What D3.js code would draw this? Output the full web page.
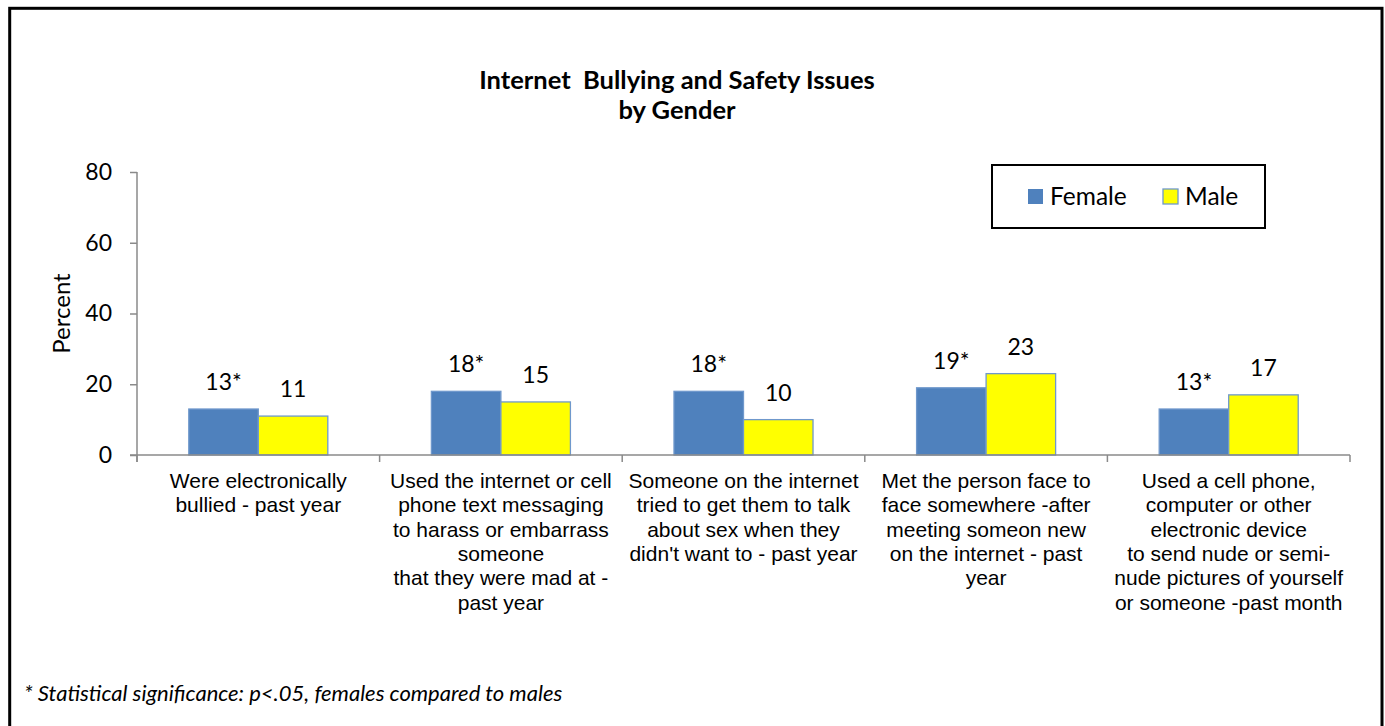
<!DOCTYPE html>
<html>
<head>
<meta charset="utf-8">
<script src="https://cdn.jsdelivr.net/npm/d3@7"></script>
<style>
  body { margin: 0; background: #fff; }
  svg { display: block; }
</style>
</head>
<body>
<svg id="chart" width="1385" height="726"></svg>
<script>
// Survey items (line breaks mark how each axis label wraps)
const categories = [
  "Were electronically\nbullied - past year",
  "Used the internet or cell\nphone text messaging\nto harass or embarrass\nsomeone\nthat they were mad at -\npast year",
  "Someone on the internet\ntried to get them to talk\nabout sex when they\ndidn't want to - past year",
  "Met the person face to\nface somewhere -after\nmeeting someon new\non the internet - past\nyear",
  "Used a cell phone,\ncomputer or other\nelectronic device\nto send nude or semi-\nnude pictures of yourself\nor someone -past month"
];
const seriesNames = ["Female", "Male"];
const femaleValues = [13, 18, 18, 19, 13];
const maleValues = [11, 15, 10, 23, 17];
// Female rates that differ significantly from males (marked with *)
const femaleSignificant = [true, true, true, true, true];
const maleSignificant = [false, false, false, false, false];
const yTicks = [0, 20, 40, 60, 80];

const titleLines = ["Internet  Bullying and Safety Issues", "by Gender"];
const yAxisTitle = "Percent";
const footnote = "* Statistical significance: p<.05, females compared to males";

const colors = { Female: "#4F81BD", Male: "#FFFF00" };
const barStroke = "#6f98cc";
const axisColor = "#8a8a8a";
const calibriLike = "Lato, 'Open Sans', sans-serif";
const arialLike = "'Liberation Sans', Arial, sans-serif";

const svg = d3.select("#chart");

// Outer frame
svg.append("rect")
  .attr("x", 9.7).attr("y", 8.3)
  .attr("width", 1372.3).attr("height", 800)
  .attr("fill", "none").attr("stroke", "#000").attr("stroke-width", 3);

// Title
const title = svg.append("text")
  .attr("text-anchor", "middle")
  .attr("font-family", calibriLike)
  .attr("font-weight", "bold")
  .attr("font-size", 25.5)
  .attr("fill", "#000");
titleLines.forEach((line, i) => {
  title.append("tspan")
    .attr("x", 677).attr("y", 89 + i * 30)
    .attr("xml:space", "preserve")
    .style("white-space", "pre")
    .text(line);
});

const plot = { left: 137, right: 1350, top: 172, bottom: 455 };

const y = d3.scaleLinear().domain([0, 80]).range([plot.bottom, plot.top]);
const x0 = d3.scaleBand().domain(categories).range([plot.left, plot.right]).padding(0);
const x1 = d3.scaleBand().domain(seriesNames).range([0, x0.bandwidth()])
  .paddingInner(0).paddingOuter(0.745);

const rows = categories.map((c, i) => ({
  category: c,
  bars: [
    { series: "Female", value: femaleValues[i], sig: femaleSignificant[i] },
    { series: "Male", value: maleValues[i], sig: maleSignificant[i] }
  ]
}));

// Y axis
const yAxis = svg.append("g")
  .attr("transform", `translate(${plot.left},0)`)
  .call(d3.axisLeft(y).tickValues(yTicks).tickSize(7).tickPadding(18).tickSizeOuter(0));
yAxis.select(".domain").attr("stroke", axisColor).attr("stroke-width", 1.5)
  .attr("d", `M0,${plot.top}V${plot.bottom + 7}`);
yAxis.selectAll(".tick line").attr("stroke", axisColor).attr("stroke-width", 1.5);
yAxis.selectAll(".tick text")
  .attr("font-family", calibriLike).attr("font-size", 23).attr("fill", "#000");

// Y axis title
svg.append("text")
  .attr("transform", `translate(70,${(plot.top + plot.bottom) / 2}) rotate(-90)`)
  .attr("text-anchor", "middle")
  .attr("font-family", calibriLike).attr("font-size", 24).attr("fill", "#000")
  .text(yAxisTitle);

// Bars
const groups = svg.append("g").selectAll("g")
  .data(rows).join("g")
  .attr("transform", d => `translate(${x0(d.category)},0)`);

groups.selectAll("rect")
  .data(d => d.bars).join("rect")
  .attr("x", d => x1(d.series))
  .attr("y", d => y(d.value))
  .attr("width", x1.bandwidth())
  .attr("height", d => y(0) - y(d.value))
  .attr("fill", d => colors[d.series])
  .attr("stroke", barStroke).attr("stroke-width", 1.3);

// Value labels
groups.selectAll("text.value")
  .data(d => d.bars).join("text")
  .attr("class", "value")
  .attr("x", d => x1(d.series) + x1.bandwidth() / 2)
  .attr("y", d => y(d.value) - 19)
  .attr("text-anchor", "middle")
  .attr("font-family", calibriLike).attr("font-size", 23).attr("fill", "#000")
  .text(d => d.value + (d.sig ? "*" : ""));

// X axis line and category dividers
const xAxis = svg.append("g");
xAxis.append("line")
  .attr("x1", plot.left - 7).attr("x2", plot.right)
  .attr("y1", plot.bottom).attr("y2", plot.bottom)
  .attr("stroke", axisColor).attr("stroke-width", 1.5);
const boundaries = categories.map(c => x0(c)).concat([plot.right]);
xAxis.selectAll("line.div")
  .data(boundaries).join("line")
  .attr("class", "div")
  .attr("x1", d => d).attr("x2", d => d)
  .attr("y1", plot.bottom).attr("y2", plot.bottom + 7)
  .attr("stroke", axisColor).attr("stroke-width", 1.5);

// Category labels
const catLabels = xAxis.selectAll("text.cat")
  .data(categories).join("text")
  .attr("class", "cat")
  .attr("text-anchor", "middle")
  .attr("font-family", arialLike).attr("font-size", 21).attr("fill", "#000");
catLabels.each(function (d) {
  const t = d3.select(this);
  d.split("\n").forEach((line, i) => {
    t.append("tspan")
      .attr("x", x0(d) + x0.bandwidth() / 2)
      .attr("y", plot.bottom + 33 + i * 24.3)
      .text(line);
  });
});

// Legend
const legend = svg.append("g");
legend.append("rect")
  .attr("x", 992).attr("y", 165).attr("width", 273).attr("height", 63)
  .attr("fill", "#fff").attr("stroke", "#000").attr("stroke-width", 2);
const legendItems = [
  { name: seriesNames[0], x: 1028 },
  { name: seriesNames[1], x: 1163 }
];
legendItems.forEach(item => {
  legend.append("rect")
    .attr("x", item.x).attr("y", 189).attr("width", 15).attr("height", 15)
    .attr("fill", colors[item.name])
    .attr("stroke", item.name === "Male" ? barStroke : "none").attr("stroke-width", 1.3);
  legend.append("text")
    .attr("x", item.x + 22).attr("y", 205)
    .attr("font-family", calibriLike).attr("font-size", 24.5).attr("fill", "#000")
    .text(item.name);
});

// Footnote
svg.append("text")
  .attr("x", 24).attr("y", 701)
  .attr("font-family", calibriLike).attr("font-style", "italic")
  .attr("font-size", 22).attr("fill", "#000")
  .text(footnote);
</script>
</body>
</html>
